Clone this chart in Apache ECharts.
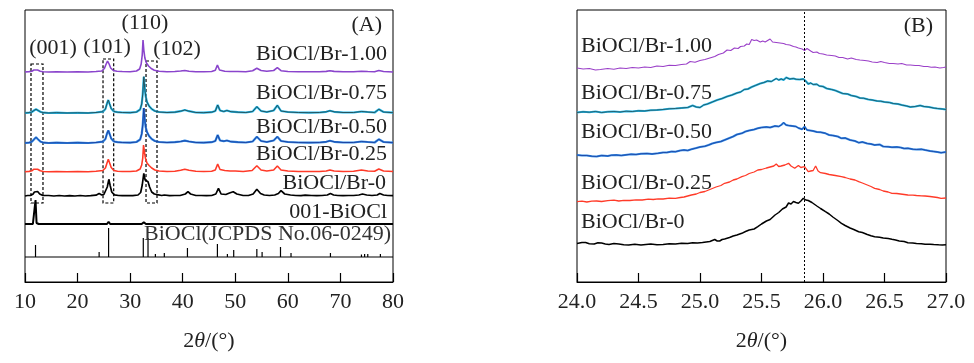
<!DOCTYPE html>
<html><head><meta charset="utf-8">
<script src="https://cdn.jsdelivr.net/npm/echarts@6/dist/echarts.min.js"></script>
<style>html,body{margin:0;padding:0;background:#fff}#c{width:974px;height:363px}</style>
</head><body><div id="c"></div>
<script>
// ---------- Panel A: 2theta (deg) vs intensity (a.u., stacked) ----------
const aBr100 = [[10,210],[10.8,210.4],[11.3,210.8],[11.7,212],[12,212.7],[12.4,212],[12.9,210.8],[13.5,210.2],[14.5,210],[16,210.3],[18,210],[20,210.3],[22,210],[23.5,210.5],[24.6,211],[25.1,213.5],[25.4,217.5],[25.7,221],[26,218],[26.3,214],[26.8,211.5],[27.5,210.8],[28.5,210.5],[30,210.3],[31.2,211],[31.8,213],[32.1,218],[32.3,227],[32.45,242],[32.6,232],[32.8,224],[33.1,219],[33.5,216],[34,213.5],[34.6,211.8],[35.5,210.8],[37,210.3],[38.5,210.5],[39.6,211],[40.4,211.5],[41.2,210.8],[42.5,210.3],[44,210.2],[45.5,210.5],[46.2,211.8],[46.6,217],[47,212],[48,210.8],[49,210.5],[50.5,210.5],[52,210.3],[53.3,211.2],[54.1,213.7],[54.9,211.5],[56,210.8],[57.3,211.5],[58,214.3],[58.7,211.3],[60,210.5],[62,210.3],[64,210.2],[66,210.3],[67.3,210.6],[68,211.3],[68.8,210.6],[70.5,210.3],[72.5,210.3],[74,210.8],[75.2,210.5],[76.5,210.3],[77.3,211.5],[78.2,210.5],[80,210]];
const aBr075 = [[10,169],[10.8,169.4],[11.3,170],[11.7,171.5],[12.1,172.7],[12.5,171.5],[13,170],[13.6,169.3],[14.5,169],[16,169.3],[18,169],[20,169.2],[22,169],[23.5,169.5],[24.8,170.3],[25.3,173],[25.6,178.5],[25.85,182],[26.1,178],[26.4,173.5],[26.9,170.5],[27.6,169.8],[28.5,169.5],[30,169.3],[31.2,170],[31.9,172.5],[32.2,178],[32.4,188],[32.6,205.3],[32.75,195],[32.95,186],[33.2,180],[33.6,176],[34.1,173],[34.7,171],[35.5,170],[37,169.5],[38.5,169.8],[39.6,170.8],[40.4,172],[41.2,170.8],[42.5,169.5],[44,169.3],[45.5,169.8],[46.2,171],[46.65,177],[47.1,171.5],[47.8,170.5],[48.4,171.5],[49.2,170.3],[50.5,169.8],[52,169.5],[53.3,170.5],[54.1,175.3],[54.9,171],[56,170],[57.3,171.5],[58,176.7],[58.7,171],[60,170],[62,169.5],[64,169.3],[66,169.5],[67.3,170.2],[68,171.3],[68.8,170.2],[70.5,169.5],[72.5,169.5],[74,170.5],[75.2,170],[76.5,169.5],[77.3,172.7],[78.2,170],[80,169.3]];
const aBr050 = [[10,139],[10.8,139.4],[11.3,140.2],[11.7,142.5],[12.1,144.7],[12.5,142.5],[13,140.2],[13.6,139.3],[14.5,139],[16,139.3],[18,139],[20,139.3],[22,139],[23.5,139.5],[24.8,140.3],[25.3,143],[25.6,148.5],[25.85,151.5],[26.1,148],[26.4,143.5],[26.9,140.5],[27.6,139.8],[28.5,139.5],[30,139.3],[31.2,140],[31.9,142.5],[32.2,148],[32.4,157],[32.6,174],[32.75,164],[32.95,155],[33.2,150],[33.6,146],[34.1,143],[34.7,141],[35.5,140],[37,139.5],[38.5,139.8],[39.6,140.5],[40.4,141.3],[41.2,140.5],[42.5,139.5],[44,139.3],[45.5,139.8],[46.2,141],[46.65,147],[47.1,141.5],[47.8,140.8],[48.4,141.5],[49.2,140.3],[50.5,139.8],[52,139.5],[53.3,140.5],[54.1,145.3],[54.9,141],[56,140],[57.3,141.5],[58,145.3],[58.7,141],[60,140],[62,139.5],[64,139.3],[66,139.5],[67.3,140.2],[68,141.3],[68.8,140.2],[70.5,139.5],[72.5,139.5],[74,140.5],[75.2,140],[76.5,139.5],[77.3,142.7],[78.2,140],[80,139.3]];
const aBr025 = [[10,110.3],[10.8,110.6],[11.3,111.2],[11.7,112.8],[12,113.7],[12.4,112.8],[12.9,111.2],[13.5,110.5],[14.5,110.3],[16,110.5],[18,110.3],[20,110.5],[22,110.3],[23.5,110.8],[24.8,111.5],[25.3,114],[25.6,119],[25.85,122.7],[26.1,119],[26.4,114.5],[26.9,111.5],[27.6,110.8],[28.5,110.5],[30,110.5],[31.2,111],[31.9,113],[32.2,117],[32.4,124],[32.55,137],[32.7,131],[32.9,124],[33.2,119],[33.6,116.5],[34.1,114],[34.7,112],[35.5,111],[37,110.5],[38.5,110.8],[39.6,111.8],[40.4,112.7],[41.2,111.8],[42.5,110.8],[44,110.5],[45.5,110.8],[46.2,112],[46.65,118],[47.1,112.5],[48,111.5],[49,111],[50,111],[51.5,110.5],[53.2,111.5],[54.1,116.3],[54.9,112],[56,111],[57.3,112],[58,116],[58.7,112],[60,111],[62,110.5],[64,110.5],[66,110.5],[67.3,111],[68,112],[68.8,111],[70.5,110.5],[72.5,110.8],[74,112],[75.2,111],[76.5,110.8],[77.3,113],[78.2,111],[80,110.5]];
const aBr0 = [[10,86],[10.5,86.5],[11,86.5],[11.5,87.8],[11.8,90],[12.1,92],[12.4,90.5],[12.8,88],[13.4,86.5],[14.5,86.5],[15.5,86],[16.5,86.5],[17.5,86],[18.5,86.3],[19.5,86],[20.5,86.5],[21.5,86],[22.5,86.3],[23.5,86.8],[24.1,88.5],[24.6,87],[25,87.5],[25.35,89],[25.65,95],[25.95,102.7],[26.2,96.5],[26.5,90],[27,87.2],[27.8,86.5],[28.5,86.3],[29.5,86.5],[30.5,86.3],[31.5,87],[32,89.5],[32.3,97],[32.6,108.7],[32.85,102],[33.1,100],[33.4,100.3],[33.7,95],[34.1,90],[34.6,88],[35.2,87.3],[36,86.5],[36.5,87],[37.5,86.3],[38.5,86.5],[39.5,86.5],[40.5,88],[41,90.3],[41.5,88],[42.5,86.5],[43.5,86.5],[44.5,86.3],[45.5,86.5],[46.3,88],[46.8,93.7],[47.3,88],[48.2,87.5],[48.9,89],[49.6,90.3],[50.3,88],[51.5,86.5],[52.5,86.5],[53.4,88],[54.1,92.7],[54.8,88.5],[55.5,87],[56.5,86.5],[57.5,87],[58.2,88.5],[58.7,91.3],[59.4,88],[60.5,87],[61.5,86.5],[62.5,86.3],[63.3,86.8],[64.5,86.5],[65.5,86.3],[66.5,86.5],[67.5,87],[68.1,88.5],[68.7,87],[69.5,86.5],[70.5,86.3],[71.5,86.5],[72.5,86.5],[73.5,87],[74.2,88],[75,87],[76,86.5],[77,87],[77.5,88.5],[78.2,87],[79,86.5],[80,86.3]];
const a001BiOCl = [[10,58],[11.5,58],[11.8,59],[12,82],[12.2,59],[12.6,58],[20,58],[23.8,58],[24.1,58.6],[24.4,58],[25.6,58],[25.9,60.3],[26.2,58],[32.2,58],[32.6,59.7],[33,58],[46.4,58],[46.7,58.6],[47,58],[80,58]];
// JCPDS No.06-0249 reference sticks: [2theta, relative height]
const jcpdsBase = 25;
const jcpdsSticks = [[12.0,12],[24.1,5],[25.9,29],[32.5,19],[33.4,19],[34.8,3],[36.5,4],[40.9,9],[43.7,1.5],[46.6,13],[48.5,3],[49.7,7],[53.3,2],[54.1,8],[55.1,5],[58.6,10],[60.6,4],[63.1,2],[68.1,4],[69.8,2],[70.2,2],[73.1,2],[74.0,2.5],[74.6,3],[75.2,3],[77.6,3],[78.5,2],[78.9,2]];
const namesA = ['BiOCl/Br-1.00','BiOCl/Br-0.75','BiOCl/Br-0.50','BiOCl/Br-0.25','BiOCl/Br-0','001-BiOCl','BiOCl(JCPDS No.06-0249)'];
const peakLabels = ['(001)','(101)','(110)','(102)'];

// ---------- Panel B: zoom 24-27 deg ----------
const bBr100 = [[24,214],[24.05,213],[24.1,213.5],[24.15,212],[24.19,212.5],[24.25,213.5],[24.3,212.8],[24.35,214],[24.4,213.5],[24.45,214.5],[24.5,214],[24.55,215],[24.6,214.5],[24.65,216],[24.7,215.5],[24.75,216.8],[24.8,216.5],[24.85,217.5],[24.89,218],[24.92,220.5],[24.96,219.8],[25,221.5],[25.04,222.5],[25.08,224],[25.12,225.5],[25.15,227.5],[25.19,229],[25.22,232],[25.25,231.5],[25.28,234],[25.31,233.5],[25.33,235.5],[25.36,236],[25.38,238],[25.4,237.5],[25.42,242.5],[25.44,241.5],[25.46,242],[25.49,240],[25.51,241],[25.53,240],[25.55,241.5],[25.57,243],[25.59,240],[25.62,239.5],[25.65,239],[25.68,238.5],[25.7,237.5],[25.73,237],[25.76,235.5],[25.78,235],[25.8,234],[25.83,233],[25.85,231.5],[25.87,233.5],[25.9,231],[25.92,229.5],[25.95,230],[25.97,228.5],[26,228],[26.03,227],[26.07,226.5],[26.1,226],[26.13,224.5],[26.16,224.5],[26.2,223],[26.23,224],[26.27,222.5],[26.3,222],[26.34,221.5],[26.37,221],[26.4,220],[26.44,219.5],[26.47,220.5],[26.5,219.5],[26.54,218.5],[26.57,218.5],[26.61,218],[26.64,218.5],[26.68,217],[26.71,217],[26.75,216.5],[26.78,216.5],[26.82,215.5],[26.85,215.5],[26.88,214.8],[26.91,215],[26.95,214],[26.98,214.5],[27,215]];
const bBr075 = [[24,169.5],[24.05,170.2],[24.1,169.8],[24.15,170.5],[24.2,169.5],[24.25,170.2],[24.3,170.5],[24.35,170],[24.4,170.8],[24.45,170.5],[24.5,171.2],[24.55,171],[24.6,171.8],[24.65,172],[24.7,172.5],[24.75,173.2],[24.8,173.5],[24.85,174],[24.9,174.5],[24.94,176.5],[24.97,175],[25,174.5],[25.03,177],[25.06,178],[25.1,180],[25.14,182],[25.18,183.5],[25.22,185.5],[25.26,187],[25.3,189],[25.33,190],[25.36,192.5],[25.39,193],[25.42,195],[25.45,196.5],[25.49,198.5],[25.52,199.5],[25.55,201],[25.58,200.5],[25.62,203.5],[25.64,202],[25.66,203],[25.68,202],[25.7,204.5],[25.73,203],[25.76,203.5],[25.78,202.8],[25.81,202.5],[25.84,203],[25.86,201],[25.88,198],[25.9,199],[25.92,197.5],[25.95,197.8],[25.97,196],[26,195.5],[26.03,193.5],[26.07,192.5],[26.1,191.5],[26.13,190],[26.16,188.5],[26.2,188],[26.23,186.5],[26.27,185.5],[26.3,184],[26.33,183.8],[26.37,182.5],[26.4,182],[26.44,181],[26.47,180.8],[26.5,180],[26.54,179.5],[26.57,178.5],[26.61,178],[26.64,177],[26.68,176],[26.71,175],[26.75,175.5],[26.79,176.5],[26.82,175.5],[26.86,175],[26.9,174],[26.93,173.5],[26.97,173],[27,172.5]];
const bBr050 = [[24,127],[24.04,126.5],[24.08,126.5],[24.12,125.8],[24.16,125.5],[24.2,126.5],[24.25,126],[24.28,126.8],[24.32,127],[24.36,126.5],[24.39,127],[24.44,127.8],[24.48,127.5],[24.52,128.2],[24.57,128.5],[24.61,128],[24.66,128.7],[24.7,129.5],[24.73,129.5],[24.77,130.5],[24.8,130.3],[24.84,131.5],[24.87,132],[24.9,131.5],[24.93,132.7],[24.97,134],[25,135],[25.04,135.8],[25.07,137],[25.1,138.5],[25.13,139.5],[25.17,140.5],[25.2,142],[25.24,144],[25.27,145.5],[25.3,147.5],[25.34,148.7],[25.37,150.5],[25.4,151.5],[25.44,152.5],[25.47,153.7],[25.5,154.5],[25.54,155],[25.57,154.5],[25.61,156],[25.64,155.5],[25.66,157],[25.68,159.3],[25.7,157],[25.72,156.5],[25.75,156],[25.78,155.5],[25.8,154],[25.83,152.7],[25.85,155.3],[25.87,152],[25.88,150.3],[25.92,151],[25.95,150],[25.98,149.8],[26.02,148.7],[26.05,147],[26.08,146.5],[26.12,145.5],[26.15,143.7],[26.18,144],[26.22,142],[26.26,141],[26.29,139.3],[26.32,140],[26.36,138.5],[26.39,138],[26.42,137],[26.46,137.5],[26.49,135.5],[26.53,135.2],[26.56,134.7],[26.6,135],[26.63,134.5],[26.66,133.5],[26.69,133.7],[26.73,132.8],[26.76,132.5],[26.8,132.8],[26.83,132],[26.87,131],[26.9,130.5],[26.93,130],[26.96,129.3],[27,130]];
const bBr025 = [[24,80.3],[24.04,80.8],[24.08,80],[24.12,80.8],[24.16,81],[24.2,80.5],[24.25,81.3],[24.3,81.8],[24.34,81],[24.38,81.6],[24.43,81.5],[24.48,82.2],[24.53,82],[24.58,82.8],[24.62,82.5],[24.66,83.2],[24.7,83],[24.75,83.8],[24.8,83.7],[24.84,84.5],[24.87,85],[24.9,86],[24.93,87],[24.97,88],[25,89.5],[25.04,90.5],[25.07,92],[25.1,93.5],[25.13,95],[25.17,96.5],[25.2,98.7],[25.24,100],[25.27,102],[25.3,103],[25.34,105.3],[25.37,106.5],[25.4,108.5],[25.44,110],[25.47,112],[25.5,112.5],[25.54,114],[25.57,115],[25.6,116],[25.62,118],[25.64,115.5],[25.66,116],[25.69,117],[25.72,118.7],[25.74,116],[25.77,113.7],[25.8,116.5],[25.82,114.5],[25.85,115.3],[25.88,110.3],[25.9,111],[25.92,111.5],[25.94,116],[25.96,111],[25.98,109.3],[26.02,108.5],[26.05,107.5],[26.1,106.5],[26.15,105.3],[26.18,104.5],[26.22,103],[26.26,102],[26.29,100.3],[26.32,99],[26.36,97],[26.39,95.5],[26.42,93.7],[26.46,92.5],[26.49,91],[26.53,90],[26.56,88.7],[26.6,88.5],[26.63,88],[26.66,87.5],[26.69,87],[26.73,86.8],[26.76,86.5],[26.8,86.2],[26.83,86],[26.87,85.5],[26.9,85],[26.93,84.5],[26.96,83.7],[27,84]];
const bBr0 = [[24,38.5],[24.04,39.5],[24.07,39.5],[24.1,38.2],[24.14,38],[24.17,39.2],[24.2,39],[24.23,38],[24.26,37.5],[24.3,38.5],[24.34,38],[24.38,37.2],[24.42,37],[24.47,37.8],[24.52,37],[24.56,37.6],[24.6,38],[24.65,37.3],[24.7,37.5],[24.75,38.2],[24.8,38],[24.85,38.8],[24.9,38.5],[24.94,39.2],[24.98,39],[25.02,39.5],[25.05,40],[25.08,40.5],[25.12,42.5],[25.14,41],[25.16,41],[25.18,42.5],[25.2,43],[25.24,44.5],[25.27,46],[25.3,47],[25.34,48.7],[25.37,50.5],[25.4,52],[25.44,53],[25.47,55.3],[25.5,58],[25.54,61],[25.57,62.5],[25.61,67],[25.64,69.5],[25.67,73],[25.7,75],[25.72,79],[25.74,78],[25.76,80.5],[25.78,79.5],[25.8,78.7],[25.82,81],[25.84,83.7],[25.86,82],[25.88,81.5],[25.91,79.5],[25.95,76],[25.98,73.5],[26.02,70.3],[26.05,68],[26.08,65],[26.12,61.5],[26.15,58.7],[26.18,56.5],[26.22,54],[26.25,52.5],[26.29,50.3],[26.32,49.5],[26.36,47.5],[26.39,46.2],[26.42,45.3],[26.46,44.8],[26.49,44],[26.53,43.5],[26.56,42.7],[26.59,42],[26.62,41],[26.66,40.5],[26.69,39.3],[26.73,39],[26.76,38.5],[26.8,38.2],[26.83,37.7],[26.87,37.8],[26.9,37.5],[26.94,37.2],[26.97,37],[27,37.2]];
const namesB = ['BiOCl/Br-1.00','BiOCl/Br-0.75','BiOCl/Br-0.50','BiOCl/Br-0.25','BiOCl/Br-0'];
const refLine2theta = 25.85;

const FONT = 'Liberation Serif';
const TXT = '#222';

function stickLine(base, sticks){
  const d = [[10, base]];
  sticks.forEach(s => { d.push([s[0], base]); d.push([s[0], base + s[1]]); d.push([s[0], base]); });
  d.push([80, base]);
  return d;
}
function lineSeries(data, color, width, xi, extra){
  return Object.assign({type:'line', xAxisIndex:xi, yAxisIndex:xi, data:data, showSymbol:false, symbol:'none',
    lineStyle:{color:color, width:width}, silent:true, animation:false, z:3}, extra||{});
}
const boxStyle = {color:'rgba(0,0,0,0)', borderColor:'#000', borderWidth:1.2, borderType:[3,2]};

const chart = echarts.init(document.getElementById('c'));
const xName = {
  name:'{n|2}{i|θ}{n|/(°)}', nameLocation:'middle', nameGap:48,
  nameTextStyle:{rich:{n:{fontFamily:FONT,fontSize:22,color:TXT},i:{fontFamily:FONT,fontStyle:'italic',fontSize:22,color:TXT}}}
};
const xCommon = {
  type:'value', axisLine:{show:true,lineStyle:{color:'#000',width:1}},
  axisTick:{show:true,inside:true,length:9,lineStyle:{color:'#000',width:1.2}},
  axisLabel:{fontFamily:FONT,fontSize:22,color:TXT,margin:9},
  splitLine:{show:false}
};
const yCommon = {type:'value', min:0, max:272, axisLine:{show:false}, axisTick:{show:false}, axisLabel:{show:false}, splitLine:{show:false}};

const txt = (x,y,t,align,size,style) => ({type:'text', x:x, y:y, style:Object.assign({text:t, fontFamily:FONT, fontSize:size||22, fill:TXT, align:align||'left', verticalAlign:'middle'}, style||{}), z:10});

chart.setOption({
  backgroundColor:'#fff',
  animation:false,
  grid:[
    {left:25, right:581, top:10, bottom:81, show:true, borderColor:'#000', borderWidth:1, backgroundColor:'rgba(0,0,0,0)'},
    {left:577, right:28, top:10, bottom:81, show:true, borderColor:'#000', borderWidth:1, backgroundColor:'rgba(0,0,0,0)'}
  ],
  xAxis:[
    Object.assign({}, xCommon, xName, {gridIndex:0, min:10, max:80, interval:10}),
    Object.assign({}, xCommon, xName, {gridIndex:1, min:24, max:27, interval:0.5, axisLabel:Object.assign({}, xCommon.axisLabel, {formatter:v=>v.toFixed(1)})})
  ],
  yAxis:[Object.assign({gridIndex:0}, yCommon), Object.assign({gridIndex:1}, yCommon)],
  series:[
    lineSeries(stickLine(jcpdsBase, jcpdsSticks), '#000', 1.2, 0),
    lineSeries(a001BiOCl, '#000', 2, 0),
    lineSeries(aBr0, '#000', 1.7, 0, {markArea:{silent:true, itemStyle:boxStyle, data:[
      [{coord:[11.14,218]},{coord:[13.42,79]}],
      [{coord:[24.84,223]},{coord:[26.87,79]}],
      [{coord:[33.02,221]},{coord:[35.11,79]}]
    ]}}),
    lineSeries(aBr025, '#ff3a28', 1.6, 0),
    lineSeries(aBr050, '#2f8ae6', 2.2, 0),
    lineSeries(aBr050, '#1c3c9c', 0.9, 0),
    lineSeries(aBr075, '#22b8ea', 2.2, 0),
    lineSeries(aBr075, '#24484e', 0.9, 0),
    lineSeries(aBr100, '#8a44cc', 1.6, 0),
    lineSeries(bBr0, '#000', 1.5, 1, {markLine:{silent:true, symbol:'none', label:{show:false},
      lineStyle:{color:'#000', width:1, type:[2,2]}, data:[{xAxis:refLine2theta}]}}),
    lineSeries(bBr025, '#ff3a28', 1.3, 1),
    lineSeries(bBr050, '#2f8ae6', 2, 1),
    lineSeries(bBr050, '#1c3c9c', 0.8, 1),
    lineSeries(bBr075, '#22b8ea', 2, 1),
    lineSeries(bBr075, '#24484e', 0.8, 1),
    lineSeries(bBr100, '#9a3fc8', 1.1, 1)
  ],
  graphic:[
    txt(382,25,'(A)','right'),
    txt(53,48,peakLabels[0],'center'),
    txt(107,47,peakLabels[1],'center'),
    txt(145,23,peakLabels[2],'center'),
    txt(177,49,peakLabels[3],'center'),
    txt(387,54,namesA[0],'right'),
    txt(387,93,namesA[1],'right'),
    txt(387,127,namesA[2],'right'),
    txt(387,154,namesA[3],'right'),
    txt(386,183,namesA[4],'right'),
    txt(387,212,namesA[5],'right'),
    txt(391,234,namesA[6],'right',22,{fill:'#333'}),
    txt(933,26,'(B)','right'),
    txt(581,46,namesB[0],'left'),
    txt(581,93,namesB[1],'left'),
    txt(581,132,namesB[2],'left'),
    txt(581,183,namesB[3],'left'),
    txt(581,222,namesB[4],'left')
  ]
});
</script></body></html>
